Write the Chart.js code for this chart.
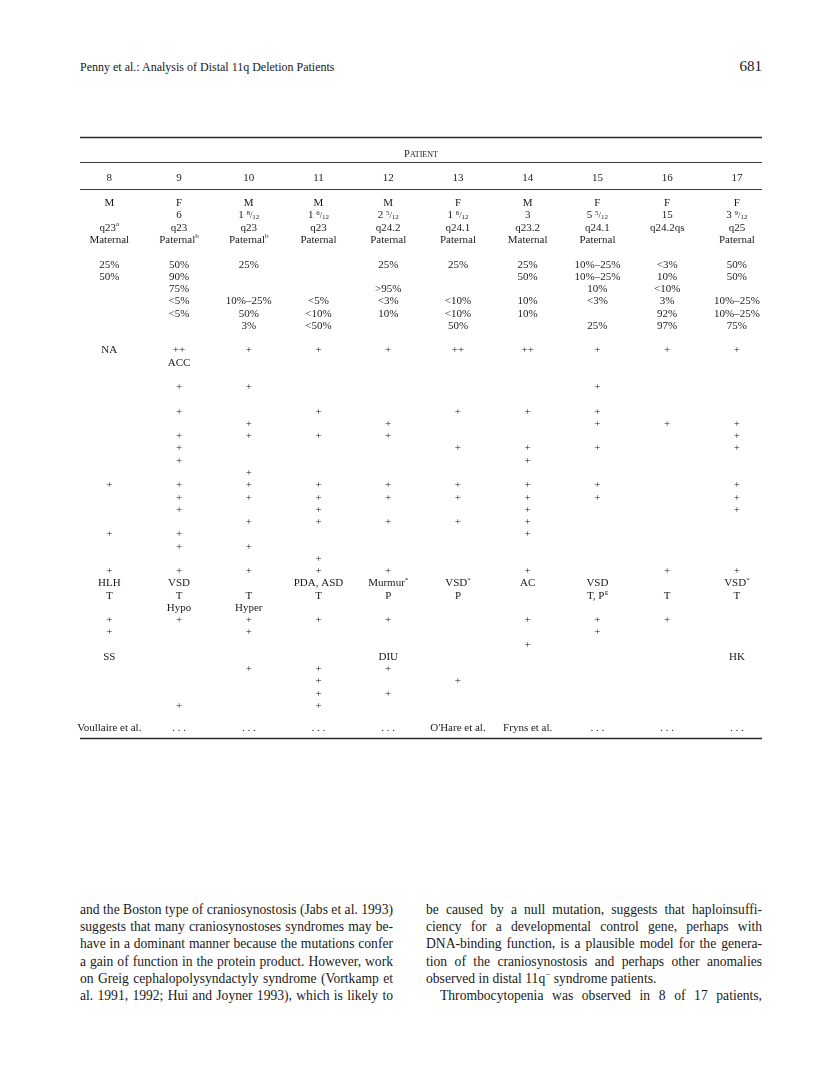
<!DOCTYPE html>
<html>
<head>
<meta charset="utf-8">
<script src="https://cdn.jsdelivr.net/npm/chart.js@4.4.1/dist/chart.umd.min.js"></script>
<style>
  body { margin: 0; background: #fff; width: 816px; height: 1081px; position: relative; overflow: hidden; font-family: 'Liberation Serif', serif; color: #1a1a1a; }
  #runhead { position: absolute; left: 80px; top: 60px; font-size: 12px; }
  #folio { position: absolute; left: 732px; top: 58px; width: 30px; text-align: right; font-size: 15px; }
  #tbl { position: absolute; left: 0; top: 0; }
  .col { position: absolute; top: 901px; font-size: 13.6px; line-height: 17.2px; }
  .col div { white-space: nowrap; }
</style>
</head>
<body>
<div id="runhead">Penny et al.: Analysis of Distal 11q Deletion Patients</div>
<div id="folio">681</div>
<canvas id="tbl" width="816" height="760"></canvas>

<div class="col" style="left:80px;width:313px">
  <div class="j">and the Boston type of craniosynostosis (Jabs et al. 1993)</div>
  <div class="j">suggests that many craniosynostoses syndromes may be-</div>
  <div class="j">have in a dominant manner because the mutations confer</div>
  <div class="j">a gain of function in the protein product. However, work</div>
  <div class="j">on Greig cephalopolysyndactyly syndrome (Vortkamp et</div>
  <div class="j">al. 1991, 1992; Hui and Joyner 1993), which is likely to</div>
</div>
<div class="col" style="left:426px;width:336px">
  <div class="j">be caused by a null mutation, suggests that haploinsuffi-</div>
  <div class="j">ciency for a developmental control gene, perhaps with</div>
  <div class="j">DNA-binding function, is a plausible model for the genera-</div>
  <div class="j">tion of the craniosynostosis and perhaps other anomalies</div>
  <div>observed in distal 11q<sup style="font-size:9px;line-height:0">−</sup> syndrome patients.</div>
  <div class="j" style="padding-left:14px">Thrombocytopenia was observed in 8 of 17 patients,</div>
</div>

<script>
// colonnes = patients 8 a 17
const patients = [8, 9, 10, 11, 12, 13, 14, 15, 16, 17];

const sex     = ['M', 'F', 'M', 'M', 'M', 'F', 'M', 'F', 'F', 'F'];
const age     = ['', '6', '1 8/12', '1 6/12', '2 5/12', '1 6/12', '3', '5 5/12', '15', '3 9/12'];
const band    = ['q23^a', 'q23', 'q23', 'q23', 'q24.2', 'q24.1', 'q23.2', 'q24.1', 'q24.2qs', 'q25'];
const origin  = ['Maternal', 'Paternal^b', 'Paternal^b', 'Paternal', 'Paternal', 'Paternal', 'Maternal', 'Paternal', '', 'Paternal'];

const cent1 = ['25%', '50%', '25%', '', '25%', '25%', '25%', '10%–25%', '<3%', '50%'];
const cent2 = ['50%', '90%', '', '', '', '', '50%', '10%–25%', '10%', '50%'];
const cent3 = ['', '75%', '', '', '>95%', '', '', '10%', '<10%', ''];
const cent4 = ['', '<5%', '10%–25%', '<5%', '<3%', '<10%', '10%', '<3%', '3%', '10%–25%'];
const cent5 = ['', '<5%', '50%', '<10%', '10%', '<10%', '10%', '', '92%', '10%–25%'];
const cent6 = ['', '', '3%', '<50%', '', '50%', '', '25%', '97%', '75%'];

const delay   = ['NA', '++', '+', '+', '+', '++', '++', '+', '+', '+'];
const brain   = ['', 'ACC', '', '', '', '', '', '', '', ''];

const f15 = ['', '+', '+', '', '', '', '', '+', '', ''];
const f17 = ['', '+', '', '+', '', '+', '+', '+', '', ''];
const f18 = ['', '', '+', '', '+', '', '', '+', '+', '+'];
const f19 = ['', '+', '+', '+', '+', '', '', '', '', '+'];
const f20 = ['', '+', '', '', '', '+', '+', '+', '', '+'];
const f21 = ['', '+', '', '', '', '', '+', '', '', ''];
const f22 = ['', '', '+', '', '', '', '', '', '', ''];
const f23 = ['+', '+', '+', '+', '+', '+', '+', '+', '', '+'];
const f24 = ['', '+', '+', '+', '+', '+', '+', '+', '', '+'];
const f25 = ['', '+', '', '+', '', '', '+', '', '', '+'];
const f26 = ['', '', '+', '+', '+', '+', '+', '', '', ''];
const f27 = ['+', '+', '', '', '', '', '+', '', '', ''];
const f28 = ['', '+', '+', '', '', '', '', '', '', ''];
const f29 = ['', '', '', '+', '', '', '', '', '', ''];
const f30 = ['+', '+', '+', '+', '+', '', '+', '', '+', '+'];

const heart   = ['HLH', 'VSD', '', 'PDA, ASD', 'Murmur^*', 'VSD^*', 'AC', 'VSD', '', 'VSD^*'];
const platel  = ['T', 'T', 'T', 'T', 'P', 'P', '', 'T, P^g', 'T', 'T'];
const thyroid = ['', 'Hypo', 'Hyper', '', '', '', '', '', '', ''];

const f34 = ['+', '+', '+', '+', '+', '', '+', '+', '+', ''];
const f35 = ['+', '', '+', '', '', '', '', '+', '', ''];
const f36 = ['', '', '', '', '', '', '+', '', '', ''];
const other = ['SS', '', '', '', 'DIU', '', '', '', '', 'HK'];
const f38 = ['', '', '+', '+', '+', '', '', '', '', ''];
const f39 = ['', '', '', '+', '', '+', '', '', '', ''];
const f40 = ['', '', '', '+', '+', '', '', '', '', ''];
const f41 = ['', '+', '', '+', '', '', '', '', '', ''];

const refs = ['Voullaire et al.', '. . .', '. . .', '. . .', '. . .', "O'Hare et al.", 'Fryns et al.', '. . .', '. . .', '. . .'];

// numero de ligne de chaque rangee du tableau
const tableRows = [
  [0, sex], [1, age], [2, band], [3, origin],
  [5, cent1], [6, cent2], [7, cent3], [8, cent4], [9, cent5], [10, cent6],
  [12, delay], [13, brain], [15, f15],
  [17, f17], [18, f18], [19, f19], [20, f20], [21, f21], [22, f22], [23, f23],
  [24, f24], [25, f25], [26, f26], [27, f27], [28, f28], [29, f29], [30, f30],
  [31, heart], [32, platel], [33, thyroid], [34, f34], [35, f35], [36, f36],
  [37, other], [38, f38], [39, f39], [40, f40], [41, f41]
];
const headRow = -2.06, titleRow = -4.1, refRow = 42.77;
const rules = [[-5.41, 1.4], [-3.37, 0.9], [-1.17, 0.9], [43.6, 1.4]];

const FONT = '"Liberation Serif", serif';
const INK = '#1a1a1a';
const BASE = 11;

function drawRich(ctx, s, x, y) {
  const parts = [];
  const m = s.match(/^(\d+) (\d+)\/(\d+)$/);
  if (m) {
    parts.push({t: m[1] + ' ', f: BASE, dy: 0});
    parts.push({t: m[2], f: 7, dy: -2.5});
    parts.push({t: '/', f: 8.5, dy: 0});
    parts.push({t: m[3], f: 7, dy: 2});
  } else {
    const k = s.indexOf('^');
    if (k >= 0) {
      parts.push({t: s.slice(0, k), f: BASE, dy: 0});
      parts.push({t: s.slice(k + 1), f: 7, dy: -3.5});
    } else {
      parts.push({t: s, f: BASE, dy: 0});
    }
  }
  let w = 0;
  parts.forEach(p => { ctx.font = p.f + 'px ' + FONT; p.w = ctx.measureText(p.t).width; w += p.w; });
  let cx = x - w / 2;
  ctx.textBaseline = 'middle';
  ctx.textAlign = 'left';
  ctx.fillStyle = INK;
  parts.forEach(p => { ctx.font = p.f + 'px ' + FONT; ctx.fillText(p.t, cx, y + p.dy); cx += p.w; });
}

// traits horizontaux + titre "Patient"
const tableFrame = {
  id: 'tableFrame',
  beforeDatasetsDraw(chart) {
    const ctx = chart.ctx, area = chart.chartArea, y = chart.scales.y;
    ctx.save();
    ctx.strokeStyle = '#2a2a2a';
    rules.forEach(r => {
      const py = Math.round(y.getPixelForValue(r[0])) + 0.5;
      ctx.lineWidth = r[1];
      ctx.beginPath();
      ctx.moveTo(area.left, py);
      ctx.lineTo(area.right, py);
      ctx.stroke();
    });
    // petites capitales
    const ty = y.getPixelForValue(titleRow);
    ctx.font = '10.5px ' + FONT;
    const w1 = ctx.measureText('P').width;
    ctx.font = '8px ' + FONT;
    const w2 = ctx.measureText('ATIENT').width;
    let cx = (area.left + area.right) / 2 - (w1 + w2) / 2;
    ctx.fillStyle = INK;
    ctx.textBaseline = 'alphabetic';
    ctx.textAlign = 'left';
    ctx.font = '10.5px ' + FONT;
    ctx.fillText('P', cx, ty + 3.5);
    ctx.font = '8px ' + FONT;
    ctx.fillText('ATIENT', cx + w1, ty + 3.5);
    ctx.restore();
  }
};

const cellText = {
  id: 'cellText',
  afterDatasetsDraw(chart) {
    const ctx = chart.ctx;
    ctx.save();
    chart.data.datasets.forEach((ds, i) => {
      chart.getDatasetMeta(i).data.forEach((pt, j) => drawRich(ctx, ds.data[j].label, pt.x, pt.y));
    });
    ctx.restore();
  }
};

// un dataset par patient
var datasets = [];
for (let i = 0; i < patients.length; i++) {
  var pts = [{x: patients[i], y: headRow, label: String(patients[i])}];
  tableRows.forEach(r => {
    if (r[1][i] !== '') pts.push({x: patients[i], y: r[0], label: r[1][i]});
  });
  pts.push({x: patients[i], y: refRow, label: refs[i]});
  datasets.push({label: 'Patient ' + patients[i], data: pts, pointRadius: 0, showLine: false, clip: false});
}

new Chart(document.getElementById('tbl').getContext('2d'), {
  type: 'scatter',
  data: { datasets: datasets },
  options: {
    responsive: false,
    animation: false,
    devicePixelRatio: 1,
    events: [],
    layout: { padding: { left: 80, right: 54, top: 137, bottom: 22 } },
    plugins: { legend: { display: false }, tooltip: { enabled: false } },
    scales: {
      x: { type: 'linear', min: 7.58, max: 17.36, display: false },
      y: { type: 'linear', min: -5.41, max: 43.6, reverse: true, display: false }
    }
  },
  plugins: [tableFrame, cellText]
});

// justification ligne par ligne
document.querySelectorAll('.col').forEach(col => {
  const target = col.clientWidth;
  col.querySelectorAll('.j').forEach(line => {
    const pad = parseFloat(line.style.paddingLeft || 0);
    const span = document.createElement('span');
    span.textContent = line.textContent;
    line.textContent = '';
    line.appendChild(span);
    const nat = span.getBoundingClientRect().width;
    const gaps = (span.textContent.match(/ /g) || []).length;
    if (gaps) span.style.wordSpacing = ((target - pad - nat) / gaps) + 'px';
  });
});
</script>
</body>
</html>
